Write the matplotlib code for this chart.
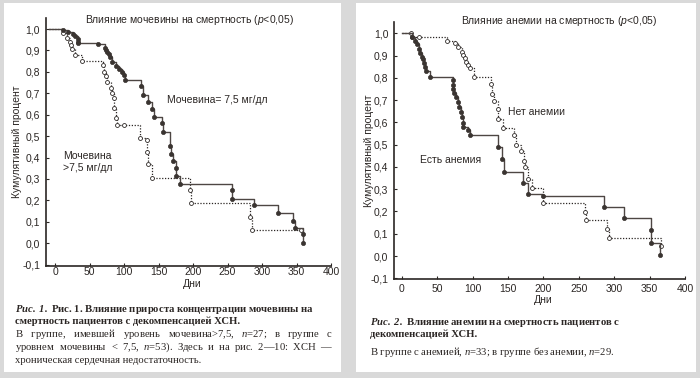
import numpy as np
import matplotlib
matplotlib.use('Agg')
import matplotlib.pyplot as plt
from matplotlib.patches import Rectangle

plt.rcParams['font.family'] = ['Liberation Sans', 'DejaVu Sans']
plt.rcParams['mathtext.fontset'] = 'custom'
plt.rcParams['mathtext.rm'] = 'Liberation Serif'
plt.rcParams['mathtext.it'] = 'Liberation Serif:italic'
plt.rcParams['mathtext.bf'] = 'Liberation Serif:bold:italic'
plt.rcParams['mathtext.sf'] = 'Liberation Sans:italic'

# --- data (days, cumulative survival) ---
urea_lo_t = [-8, 12, 19, 26, 29, 33, 33.5, 34, 63, 73, 74, 76, 78, 80, 83, 89, 93, 97, 100, 101,
             125, 128, 135, 140, 143, 155, 157, 167, 168, 171, 175, 176, 181, 256, 256.5, 289, 323,
             345, 348, 359, 360]
urea_lo_s = [1.0, 0.994, 0.984, 0.975, 0.967, 0.953, 0.94, 0.933, 0.928, 0.913, 0.902, 0.891, 0.882,
             0.871, 0.847, 0.827, 0.813, 0.798, 0.785, 0.762, 0.734, 0.692, 0.659, 0.625, 0.59, 0.559,
             0.517, 0.455, 0.416, 0.385, 0.349, 0.315, 0.276, 0.248, 0.207, 0.179, 0.142, 0.106, 0.069,
             0.042, 0.0]
urea_hi_t = [-8, 12, 17, 22, 23, 24, 29, 39, 70, 71, 74, 75, 81, 83, 85, 86, 89, 90, 100, 123, 133,
             134, 134.5, 140, 196, 197, 283, 286, 357]
urea_hi_s = [1.0, 0.98, 0.96, 0.94, 0.925, 0.905, 0.88, 0.85, 0.832, 0.8, 0.78, 0.754, 0.723, 0.7,
             0.676, 0.629, 0.583, 0.551, 0.551, 0.492, 0.484, 0.427, 0.369, 0.305, 0.248, 0.19, 0.123,
             0.061, 0.061]

anem_t = [0, 14, 19, 21, 24, 26, 28, 30, 32, 33, 34, 40, 72, 72.5, 73, 74, 77, 79, 81, 84, 85, 86,
          87, 93, 96, 136, 141, 144, 171, 179, 199, 286, 314, 352, 352.5, 364]
anem_s = [1.0, 0.985, 0.967, 0.951, 0.928, 0.91, 0.895, 0.883, 0.868, 0.85, 0.832, 0.805, 0.79,
          0.768, 0.749, 0.73, 0.713, 0.693, 0.671, 0.648, 0.626, 0.599, 0.581, 0.566, 0.543, 0.491,
          0.434, 0.377, 0.329, 0.277, 0.271, 0.22, 0.169, 0.117, 0.06, 0.005]
noanem_t = [0, 13, 14, 24, 64, 75, 80, 85, 87, 89, 91, 93, 96, 102, 126, 128, 130, 136, 136.5, 143,
            158, 162, 169, 172, 174, 179, 184, 199, 259, 260, 290, 293, 366]
noanem_s = [1.0, 1.0, 0.985, 0.982, 0.967, 0.955, 0.94, 0.918, 0.903, 0.888, 0.873, 0.858, 0.843,
            0.805, 0.771, 0.726, 0.696, 0.659, 0.614, 0.576, 0.543, 0.499, 0.472, 0.427, 0.401, 0.346,
            0.307, 0.237, 0.199, 0.162, 0.123, 0.081, 0.045]

xticks = [0, 50, 100, 150, 200, 250, 300, 350, 400]
yticks = [-0.1, 0.0, 0.1, 0.2, 0.3, 0.4, 0.5, 0.6, 0.7, 0.8, 0.9, 1.0]
ytick_labels = ['-0,1', '0,0', '0,1', '0,2', '0,3', '0,4', '0,5', '0,6', '0,7', '0,8', '0,9', '1,0']

W, H = 700, 378
ink = '#2b2624'
fs = 7.5

fig = plt.figure(figsize=(W / 100, H / 100), dpi=100, facecolor='#d9d9d9')
rend = fig.canvas.get_renderer()


def fx(x):
    return x / W


def fy(y):
    return 1 - y / H


def box(x0, y0, x1, y1):
    fig.patches.append(Rectangle((fx(x0), fy(y1)), (x1 - x0) / W, (y1 - y0) / H,
                                 transform=fig.transFigure, facecolor='white', edgecolor='none', zorder=-5))


def txt(x, y, s, **kw):
    kw.setdefault('fontsize', fs)
    kw.setdefault('color', ink)
    kw.setdefault('va', 'center')
    return fig.text(fx(x), fy(y), s, **kw)


def cap_line(x, y, src, weight='normal', right=None, size=7.7):
    # one text object per line; justified lines get hair spaces added between words
    t = fig.text(fx(x), fy(y), src, fontsize=size, family='Liberation Serif', weight=weight,
                 color=ink, va='baseline')
    words = src.split(' ')
    if right is None or len(words) < 2:
        return t
    w0 = t.get_window_extent(rend).width
    fill = '\u200a'
    t.set_text((' ' + fill).join(words))
    h = (t.get_window_extent(rend).width - w0) / (len(words) - 1)
    if h < 0.3:
        fill = ' '
        t.set_text('  '.join(words))
        h = (t.get_window_extent(rend).width - w0) / (len(words) - 1)
    n = max(0, int(round((right - x - w0) / h)))
    q, r = divmod(n, len(words) - 1)
    s = words[0]
    for i, w in enumerate(words[1:]):
        s += ' ' + fill * (q + (1 if i < r else 0)) + w
    t.set_text(s)
    return t


def km(ax, t, s, dotted):
    if dotted:
        ax.plot(t, s, drawstyle='steps-post', color=ink, lw=0.9, ls=(0, (1, 1.3)))
        ax.plot(t[1:], s[1:], 'o', ms=2.8, mfc='white', mec=ink, mew=0.6, ls='none')
    else:
        ax.plot(t, s, drawstyle='steps-post', color='#4d4643', lw=1.0)
        ax.plot(t[1:], s[1:], 'o', ms=3.0, mfc='#3a3431', mec='#3a3431', mew=0.5, ls='none')


def setup(ax, xmin, pad):
    ax.set_xlim(xmin, 400)
    ax.set_ylim(-0.105, 1.05)
    ax.set_facecolor('none')
    for side in ['top', 'right']:
        ax.spines[side].set_visible(False)
    for side in ['left', 'bottom']:
        ax.spines[side].set_linewidth(1.2)
        ax.spines[side].set_color(ink)
    ax.set_xticks(xticks)
    ax.set_xticklabels([str(v) for v in xticks])
    ax.set_yticks(yticks)
    ax.set_yticklabels(ytick_labels)
    ax.tick_params(direction='in', length=2.5, width=0.8, color=ink, labelsize=fs, labelcolor=ink)
    ax.tick_params(axis='x', pad=pad)
    ax.tick_params(axis='y', pad=4)


box(4, 3, 341, 372)
box(356, 3, 696, 372)

# left panel
ax1 = fig.add_axes([fx(45.7), fy(265.7), (331 - 45.7) / W, (265.7 - 18.3) / H])
setup(ax1, -13.5, 1.0)
km(ax1, urea_hi_t, urea_hi_s, True)
km(ax1, urea_lo_t, urea_lo_s, False)
txt(190, 20, r'Влияние мочевины на смертность ($\mathsf{p}$<0,05)', ha='center')
txt(16.7, 142, 'Кумулятивный процент', rotation=90, ha='center')
txt(192, 284, 'Дни', ha='center')
txt(167, 100, 'Мочевина= 7,5 мг/дл')
txt(63, 162, 'Мочевина\n>7,5 мг/дл', linespacing=1.15)

# right panel
ax2 = fig.add_axes([fx(394), fy(279.4), (685 - 394) / W, (279.4 - 22.2) / H])
setup(ax2, -10.9, 3.0)
km(ax2, noanem_t, noanem_s, True)
km(ax2, anem_t, anem_s, False)
txt(559, 21, r'Влияние анемии на смертность ($\mathsf{p}$<0,05)', ha='center')
txt(369, 151, 'Кумулятивный процент', rotation=90, ha='center')
txt(543, 300, 'Дни', ha='center')
txt(508, 112, 'Нет анемии')
txt(420, 160, 'Есть анемия')

# captions (baselines)
cap_line(15, 312, r'$\mathbf{Рис.}$ $\mathbf{1.}$ Рис. 1. Влияние прироста концентрации мочевины на', weight='bold')
cap_line(15, 324, 'смертность пациентов с декомпенсацией ХСН.', weight='bold')
cap_line(15, 337, 'В группе, имевшей уровень мочевина>7,5, $n$=27; в группе с', right=333)
cap_line(15, 350, 'уровнем мочевины < 7,5, $n$=53). Здесь и на рис. 2—10: ХСН —', right=333)
cap_line(15, 363, 'хроническая сердечная недостаточность.')

cap_line(370, 325, r'$\mathbf{Рис.}$ $\mathbf{2.}$ Влияние анемии на смертность пациентов с', weight='bold')
cap_line(370, 337, 'декомпенсацией ХСН.', weight='bold')
cap_line(370, 355, 'В группе с анемией, $n$=33; в группе без анемии, $n$=29.')

fig.savefig('out.png', dpi=100, facecolor=fig.get_facecolor())
